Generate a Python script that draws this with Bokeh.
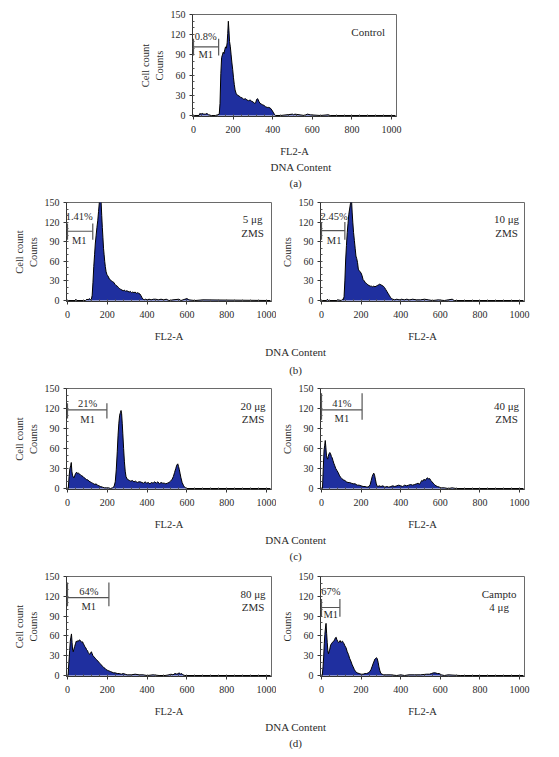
from bokeh.plotting import figure
from bokeh.layouts import column, row
from bokeh.models import Range1d, LinearAxis, FixedTicker, SingleIntervalTicker
from bokeh.core.properties import value
from bokeh.embed import file_html
from bokeh.resources import INLINE

FONT = "Liberation Serif"
FILL = "#1f2f9f"
TXT = "#2a2a2a"

# ---------------- histogram data (FL2-A channel, cell counts) ----------------
A_x = [0, 28, 32, 38, 44, 52, 60, 68, 76, 90,
       110, 122, 130, 134, 138, 142, 146, 150, 154, 158,
       162, 166, 170, 173, 176, 179, 182, 186, 190, 194,
       198, 202, 206, 210, 215, 222, 230, 238, 246, 254,
       262, 270, 278, 286, 294, 302, 308, 314, 319, 324,
       330, 336, 342, 348, 356, 364, 372, 380, 388, 396,
       402, 408, 414, 440, 500, 506, 512, 560, 575, 590,
       640, 680, 690, 1020]
A_c = [0, 0, 3, 2, 3, 2, 2, 3, 1, 0,
       0, 1, 2, 18, 62, 86, 90, 94, 92, 98,
       102, 100, 108, 122, 140, 126, 110, 102, 90, 78,
       68, 56, 46, 38, 33, 30, 29, 27, 26, 24,
       25, 23, 22, 23, 21, 20, 18, 19, 24, 25,
       21, 18, 17, 16, 15, 13, 12, 12, 11, 8,
       5, 2, 0, 0, 2, 1, 2, 0, 2, 1,
       0, 1, 0, 0]

B1_x = [0, 38, 42, 46, 90, 98, 104, 110, 116, 120,
        124, 128, 132, 136, 140, 144, 148, 152, 156, 160,
        163, 166, 169, 172, 175, 178, 181, 184, 187, 190,
        194, 198, 202, 206, 210, 215, 220, 226, 232, 238,
        244, 250, 256, 262, 268, 274, 280, 286, 292, 298,
        304, 310, 316, 322, 328, 334, 340, 346, 352, 358,
        364, 370, 375, 380, 385, 392, 400, 410, 420, 432,
        444, 456, 470, 484, 496, 510, 530, 560, 570, 590,
        600, 610, 640, 680, 1020]
B1_c = [0, 0, 2, 0, 0, 2, 1, 3, 1, 2,
        8, 28, 52, 70, 88, 100, 112, 122, 136, 150,
        158, 160, 150, 130, 112, 96, 80, 70, 60, 52,
        44, 40, 38, 36, 33, 32, 30, 29, 28, 25,
        23, 22, 20, 18, 17, 16, 15, 16, 14, 15,
        14, 13, 14, 12, 13, 12, 13, 11, 12, 11,
        10, 7, 4, 2, 1, 2, 1, 2, 1, 2,
        2, 1, 2, 1, 2, 0, 1, 2, 0, 2,
        3, 1, 0, 1, 0]

B2_x = [0, 26, 30, 34, 78, 82, 100, 106, 110, 114,
        118, 122, 126, 130, 134, 138, 142, 146, 149, 152,
        155, 158, 162, 166, 170, 174, 178, 182, 186, 190,
        195, 200, 205, 210, 216, 222, 228, 234, 240, 246,
        252, 258, 264, 270, 276, 282, 288, 294, 300, 306,
        312, 318, 324, 330, 336, 342, 348, 354, 360, 370,
        380, 392, 404, 418, 430, 446, 460, 480, 500, 520,
        540, 560, 590, 620, 640, 660, 670, 1020]
B2_c = [0, 0, 2, 0, 0, 1, 0, 2, 1, 6,
        30, 62, 84, 104, 118, 132, 140, 148, 156, 152,
        134, 120, 104, 92, 80, 68, 64, 58, 48, 46,
        44, 42, 38, 32, 30, 27, 26, 24, 23, 22,
        22, 21, 22, 21, 22, 23, 24, 25, 24, 23,
        22, 20, 17, 14, 11, 8, 5, 3, 2, 1,
        2, 1, 2, 1, 2, 1, 2, 1, 1, 2,
        1, 0, 1, 0, 1, 2, 0, 0]

C1_x = [0, 4, 8, 12, 16, 19, 22, 25, 28, 32,
        36, 40, 44, 48, 52, 56, 60, 66, 72, 78,
        84, 90, 96, 102, 108, 114, 120, 126, 132, 138,
        144, 150, 158, 166, 176, 186, 196, 206, 216, 226,
        234, 240, 245, 250, 254, 258, 262, 266, 269, 272,
        275, 278, 282, 286, 290, 294, 300, 306, 312, 318,
        326, 334, 342, 350, 358, 366, 374, 382, 390, 398,
        406, 414, 422, 430, 438, 446, 454, 462, 470, 478,
        486, 494, 502, 510, 518, 526, 532, 538, 544, 549,
        554, 558, 562, 566, 570, 576, 582, 588, 594, 600,
        1020]
C1_c = [0, 0, 18, 30, 34, 39, 26, 20, 18, 16,
        19, 22, 24, 24, 22, 23, 22, 20, 19, 18,
        16, 15, 13, 13, 11, 10, 9, 8, 7, 6,
        7, 5, 4, 3, 2, 1, 1, 1, 0, 1,
        3, 10, 28, 55, 80, 98, 110, 114, 117, 112,
        98, 82, 60, 40, 26, 18, 14, 13, 12, 11,
        12, 10, 11, 9, 10, 10, 9, 8, 10, 8,
        9, 7, 9, 8, 10, 8, 10, 7, 9, 8,
        8, 7, 8, 9, 11, 14, 18, 24, 30, 35,
        37, 33, 28, 22, 16, 9, 5, 2, 1, 0,
        0]

C2_x = [0, 5, 9, 13, 16, 19, 22, 25, 28, 31,
        34, 38, 42, 46, 50, 54, 58, 62, 66, 72,
        78, 84, 90, 96, 102, 110, 118, 126, 134, 142,
        150, 160, 170, 180, 190, 200, 210, 220, 230, 240,
        246, 251, 256, 260, 264, 268, 272, 276, 280, 285,
        292, 300, 310, 320, 330, 340, 350, 360, 370, 380,
        390, 400, 410, 420, 430, 440, 450, 460, 470, 480,
        488, 494, 500, 506, 512, 518, 524, 530, 536, 541,
        546, 552, 558, 564, 570, 578, 586, 596, 606, 620,
        640, 660, 680, 1020]
C2_c = [0, 0, 30, 58, 64, 72, 62, 50, 46, 44,
        48, 52, 54, 52, 48, 46, 42, 38, 35, 30,
        27, 24, 20, 17, 15, 13, 12, 10, 9, 9,
        8, 7, 7, 5, 5, 4, 3, 3, 2, 3,
        6, 12, 18, 21, 23, 20, 14, 8, 4, 3,
        4, 3, 4, 2, 3, 2, 3, 4, 3, 4,
        5, 4, 3, 5, 4, 5, 6, 5, 6, 7,
        8, 6, 9, 12, 11, 14, 12, 15, 16, 14,
        15, 12, 10, 8, 6, 4, 3, 2, 1, 1,
        0, 1, 0, 0]

D1_x = [0, 3, 7, 11, 14, 17, 20, 23, 26, 29,
        32, 36, 40, 44, 48, 52, 56, 60, 64, 68,
        72, 76, 80, 84, 88, 92, 96, 100, 104, 108,
        112, 116, 120, 124, 128, 134, 140, 146, 152, 158,
        164, 170, 176, 182, 188, 194, 200, 208, 216, 224,
        232, 240, 250, 260, 270, 280, 290, 300, 320, 340,
        360, 380, 400, 430, 460, 490, 510, 520, 530, 540,
        550, 556, 562, 568, 574, 580, 590, 600, 640, 1020]
D1_c = [0, 0, 20, 38, 52, 58, 63, 50, 38, 36,
        40, 44, 48, 52, 51, 53, 52, 54, 53, 52,
        50, 51, 48, 46, 43, 42, 39, 38, 35, 33,
        32, 34, 36, 33, 30, 28, 26, 24, 22, 20,
        18, 16, 14, 12, 11, 9, 8, 7, 6, 5,
        4, 4, 3, 3, 2, 3, 2, 1, 1, 2,
        1, 1, 0, 1, 0, 0, 1, 2, 1, 3,
        2, 3, 4, 2, 3, 1, 0, 0, 0, 0]

D2_x = [0, 4, 8, 11, 14, 17, 20, 23, 26, 29,
        32, 35, 38, 42, 46, 50, 54, 58, 62, 66,
        70, 74, 78, 82, 86, 90, 94, 98, 102, 106,
        110, 114, 118, 124, 130, 136, 142, 148, 154, 160,
        166, 172, 180, 190, 200, 210, 220, 228, 236, 244,
        250, 256, 262, 266, 270, 274, 278, 282, 286, 290,
        295, 300, 306, 314, 330, 350, 380, 400, 420, 440,
        470, 500, 530, 545, 555, 565, 575, 585, 595, 605,
        620, 640, 700, 1020]
D2_c = [0, 0, 14, 28, 48, 62, 72, 79, 64, 50,
        38, 33, 36, 40, 46, 48, 50, 51, 52, 54,
        57, 58, 54, 52, 50, 51, 53, 50, 51, 52,
        50, 48, 45, 42, 36, 32, 26, 22, 17, 13,
        9, 6, 4, 3, 2, 2, 3, 3, 4, 6,
        9, 14, 19, 22, 25, 26, 27, 25, 20, 13,
        7, 3, 2, 1, 1, 1, 0, 1, 0, 1,
        1, 1, 2, 2, 3, 4, 4, 3, 3, 1,
        0, 1, 0, 0]

# ---------------- M1 gates and labels (order: A, B1, B2, C1, C2, D1, D2) ----------------
GATE_END = [127, 127, 118, 198, 205, 208, 93]
GATE_Y = [102, 106, 107, 118, 118, 118, 103]
GATE_LO = [89, 93, 93, 105, 103, 105, 89]
GATE_HI = [114, 118, 120, 128, 143, 141, 116]
GATE_PCT = ["0.8%", "1.41%", "2.45%", "21%", "41%", "64%", "67%"]
PCT_X = [62, 59, 64, 101, 103, 107, 47]
PCT_Y = [118, 128, 128, 128, 128, 127, 127]
M1_Y = [90, 92, 92, 104, 105, 105, 93]
COND_1 = ["Control", "5 μg", "10 μg", "20 μg", "40 μg", "80 μg", "Campto"]
COND_2 = ["", "ZMS", "ZMS", "ZMS", "ZMS", "ZMS", "4 μg"]
COND_X = [882, 930, 934, 932, 934, 932, 897]
PANEL_LETTERS = ["(a)", "(b)", "(c)", "(d)"]


def panel(i, xs, cs, width, height, mb_left, mb_right, mb_top, mb_bottom, cell_count, y_label_standoff):
    p = figure(width=width, height=height, x_range=Range1d(-5, 1025), y_range=Range1d(-1.5, 150),
               output_backend="svg", toolbar_location=None,
               min_border_left=mb_left, min_border_right=mb_right,
               min_border_top=mb_top, min_border_bottom=mb_bottom)
    p.grid.visible = False
    p.outline_line_color = "#6a6a6a"
    p.outline_line_width = 1
    p.background_fill_color = "white"
    p.border_fill_color = "white"

    p.varea(x=xs, y1=0, y2=cs, fill_color=FILL, fill_alpha=1.0)
    p.line(x=xs, y=cs, line_color="black", line_width=1)

    # gate M1
    e = GATE_END[i]
    p.segment(x0=[0, e, 0], y0=[GATE_Y[i], GATE_LO[i], GATE_LO[i]],
              x1=[e, e, 0], y1=[GATE_Y[i], GATE_HI[i], GATE_HI[i]],
              line_color="#555555", line_width=1.2)
    p.text(x=[PCT_X[i], PCT_X[i]], y=[PCT_Y[i], M1_Y[i]], text=[GATE_PCT[i], "M1"],
           text_align="center", text_baseline="middle", text_font=value(FONT),
           text_font_size="10.5px", text_color=TXT)
    p.text(x=[COND_X[i], COND_X[i]], y=[124, 104], text=[COND_1[i], COND_2[i]],
           text_align="center", text_baseline="middle", text_font=value(FONT),
           text_font_size="11px", text_color=TXT)

    p.xaxis.ticker = SingleIntervalTicker(interval=200, num_minor_ticks=5)
    p.yaxis.ticker = SingleIntervalTicker(interval=30, num_minor_ticks=3)
    for ax in (p.xaxis[0], p.yaxis[0]):
        ax.axis_line_color = "#333333"
        ax.major_tick_line_color = "#333333"
        ax.minor_tick_line_color = "#555555"
        ax.major_tick_in = 0
        ax.major_tick_out = 3
        ax.minor_tick_in = 2
        ax.minor_tick_out = 0
        ax.major_label_text_font = FONT
        ax.major_label_text_font_size = "10px"
        ax.major_label_text_color = TXT
        ax.axis_label_text_font = FONT
        ax.axis_label_text_font_style = "normal"
        ax.axis_label_text_font_size = "10.5px"
        ax.axis_label_text_color = TXT
    p.xaxis.axis_label = "FL2-A"
    p.xaxis.major_label_standoff = 6
    p.xaxis.axis_label_standoff = 10
    p.yaxis.axis_label = "Counts"
    p.yaxis.major_label_standoff = 4
    p.yaxis.axis_label_standoff = y_label_standoff
    if cell_count:
        extra = LinearAxis(axis_label="Cell count", ticker=FixedTicker(ticks=[]),
                           axis_line_color=None, major_tick_line_color=None,
                           minor_tick_line_color=None, major_tick_out=0, minor_tick_out=0,
                           major_tick_in=0, minor_tick_in=0, axis_label_standoff=0,
                           axis_label_text_font=FONT, axis_label_text_font_style="normal",
                           axis_label_text_font_size="10.5px", axis_label_text_color=TXT)
        p.add_layout(extra, "left")
    return p


def caption(height, y_text, y_letter, x_text, letter):
    c = figure(width=550, height=height, x_range=Range1d(0, 550), y_range=Range1d(0, height),
               output_backend="svg", toolbar_location=None, x_axis_location=None,
               y_axis_location=None, min_border=0)
    c.grid.visible = False
    c.outline_line_color = None
    c.text(x=[x_text, 278], y=[y_text, y_letter], text=["DNA Content", letter],
           text_align="center", text_baseline="middle", text_font=value(FONT),
           text_font_size="11px", text_color=TXT)
    return c


figA = panel(0, A_x, A_c, 550, 159, 192, 154, 14, 42, True, 3)
capA = caption(32, 25, 9, 293, PANEL_LETTERS[0])

figB1 = panel(1, B1_x, B1_c, 276, 153, 66, 5, 11, 40, True, 3)
figB2 = panel(2, B2_x, B2_c, 275, 153, 44, 27, 11, 40, False, 3)
capB = caption(33, 26, 8, 279, PANEL_LETTERS[1])

figC1 = panel(3, C1_x, C1_c, 276, 155, 66, 5, 11, 41, True, 3)
figC2 = panel(4, C2_x, C2_c, 275, 155, 44, 27, 11, 41, False, 3)
capC = caption(32, 25, 9, 279, PANEL_LETTERS[2])

figD1 = panel(5, D1_x, D1_c, 276, 155, 66, 5, 12, 41, True, 3)
figD2 = panel(6, D2_x, D2_c, 275, 155, 44, 27, 12, 41, False, 3)
capD = caption(30, 23, 7, 279, PANEL_LETTERS[3])

layout = column(figA, capA, row(figB1, figB2), capB, row(figC1, figC2), capC,
                row(figD1, figD2), capD)

open("out.html", "w").write(file_html(layout, INLINE))
